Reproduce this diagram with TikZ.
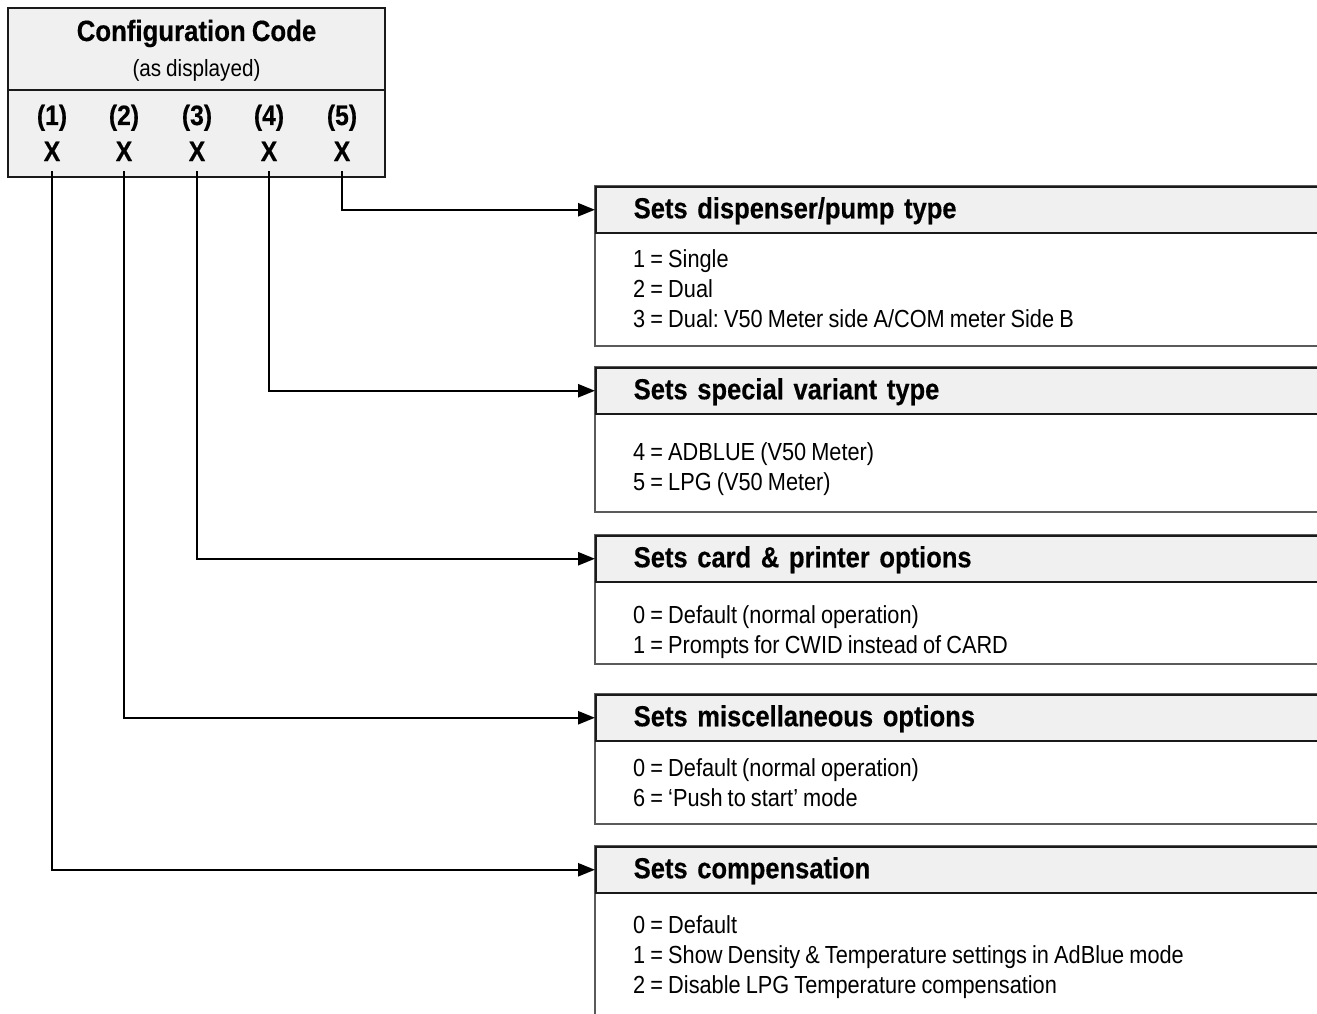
\documentclass[tikz,border=0pt]{standalone}
\usepackage{fontspec}
\setmainfont{Liberation Sans}[FakeStretch=0.88,WordSpace=0.85,BoldFeatures={FakeBold=0.4}]
\frenchspacing
\usetikzlibrary{arrows.meta}
\definecolor{band}{HTML}{F0F0F0}
\definecolor{ink}{HTML}{1A1A1A}
\definecolor{rim}{HTML}{5A5A5A}
\tikzset{
 headband/.style={anchor=north west,draw=ink,line width=1.5pt,fill=band,minimum width=745pt,minimum height=46pt,text width=669pt,inner xsep=38pt,inner ysep=0pt,align=left,text height=20pt,text depth=3pt,font=\fontsize{29}{32}\selectfont\bfseries},
 itemtxt/.style={anchor=base west,inner sep=0pt,font=\fontsize{24.7}{30}\selectfont},
 numlbl/.style={anchor=base,inner sep=0pt,font=\fontsize{28}{30}\selectfont\bfseries},
 xmark/.style={anchor=base,inner xsep=0pt,inner ysep=10pt,text depth=0pt,font=\fontsize{28}{30}\selectfont\bfseries},
 conn/.style={line width=2.5pt,-{Triangle[length=17pt,width=13pt]}}
}
% name, top, bottom, heading, first baseline, items
\newcommand{\optbox}[6]{\draw[rim,line width=1.5pt,fill=white] (595,#2) rectangle (1340,#3);
 \node[headband] (#1) at (595,#2) {#4};
 \foreach \t [count=\i] in {#6}{\node[itemtxt] (#1-\i) at (633,{#5+30*(\i-1)}) {\t};}}

\begin{document}
\begin{tikzpicture}[x=1pt,y=-1pt]
\useasboundingbox (0,0) rectangle (1317,1014);
\clip (0,0) rectangle (1317,1014);
% code box
\draw[ink,line width=1.5pt,fill=band] (8,8) rectangle (385,177);\draw[ink,line width=1.5pt] (8,90)--(385,90);
\node[anchor=base,inner sep=0pt,font=\fontsize{29.3}{32}\selectfont\bfseries] (title) at (196.5,41) {Configuration Code};
\node[anchor=base,inner sep=0pt,font=\fontsize{23.5}{26}\selectfont] (sub) at (196.5,77) {(as displayed)};
\foreach \i/\x in {1/52,2/124,3/197,4/269,5/342}{\node[numlbl] (n\i) at (\x,125) {(\i)};\node[xmark] (x\i) at (\x,161) {X};}
% option boxes
\optbox{pump}{186}{346}{Sets dispenser/pump type}{267}{1 = Single,2 = Dual,3 = Dual: V50 Meter side A/COM meter Side B}
\optbox{variant}{367}{512}{Sets special variant type}{460}{4 = ADBLUE (V50 Meter),5 = LPG (V50 Meter)}
\optbox{card}{535}{664}{Sets card \& printer options}{623}{0 = Default (normal operation),1 = Prompts for CWID instead of CARD}
\optbox{misc}{694}{824}{Sets miscellaneous options}{776}{0 = Default (normal operation),6 = ‘Push to start’ mode}
\optbox{comp}{846}{1040}{Sets compensation}{933}{0 = Default,1 = Show Density \& Temperature settings in AdBlue mode,2 = Disable LPG Temperature compensation}
% connectors
\foreach \i/\b in {5/pump,4/variant,3/card,2/misc,1/comp}{\draw[conn] (x\i.south) |- (\b.west);}
\end{tikzpicture}
\end{document}
